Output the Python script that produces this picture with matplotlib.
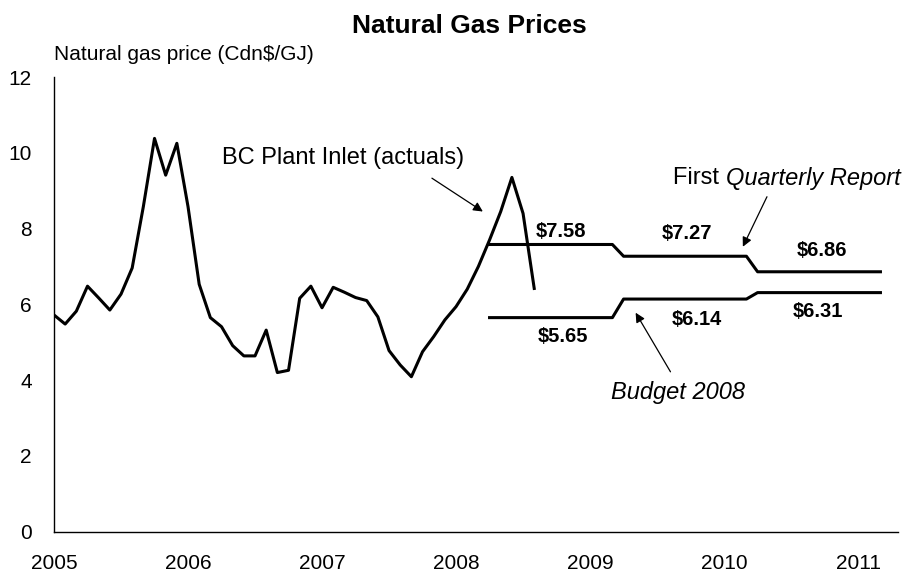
import numpy as np
import matplotlib
matplotlib.use("Agg")
import matplotlib.pyplot as plt

plt.rcParams['font.family'] = ['Liberation Sans', 'DejaVu Sans']

# monthly BC plant inlet price, Jan 2005 - Aug 2008 (Cdn$/GJ)
actual_prices = [
    5.72, 5.48, 5.82, 6.48, 6.17, 5.85, 6.27, 6.96, 8.58, 10.38, 9.41, 10.25,
    8.58, 6.53, 5.65, 5.41, 4.91, 4.64, 4.64, 5.32, 4.20, 4.26, 6.16, 6.48,
    5.91, 6.45, 6.32, 6.18, 6.10, 5.67, 4.78, 4.40, 4.09, 4.75, 5.15, 5.59,
    5.94, 6.40, 7.00, 7.70, 8.45, 9.35, 8.40, 6.42,
]
actual_start = 2005.0

# fiscal year forecasts (Apr - Mar)
fiscal_years = ['2008/09', '2009/10', '2010/11']
fy_start = 2008.25
qr_prices = [7.58, 7.27, 6.86]       # First Quarterly Report
budget_prices = [5.65, 6.14, 6.31]   # Budget 2008

year_ticks = [2005, 2006, 2007, 2008, 2009, 2010, 2011]
y_ticks = [0, 2, 4, 6, 8, 10, 12]

months_actual = actual_start + np.arange(len(actual_prices)) / 12
n_fc = 12 * len(fiscal_years)
months_fc = fy_start + np.arange(n_fc) / 12
qr_monthly = np.repeat(qr_prices, 12)
budget_monthly = np.repeat(budget_prices, 12)

fig = plt.figure(figsize=(9.03, 5.76), dpi=100)
ax = fig.add_axes([0.0598, 0.0769, 0.935, 0.7894])

ax.plot(months_actual, actual_prices, color='black', lw=2.2)
ax.plot(months_fc, qr_monthly, color='black', lw=2.2)
ax.plot(months_fc, budget_monthly, color='black', lw=2.2)

ax.set_xlim(2005, 2011.3)
ax.set_ylim(0, 12)
ax.set_xticks(year_ticks)
ax.set_xticklabels([str(y) for y in year_ticks], fontsize=15)
ax.set_yticks(y_ticks)
ax.set_yticklabels([str(v) for v in y_ticks], fontsize=15)
ax.tick_params(axis='x', length=0, pad=16)
ax.tick_params(axis='y', length=0, pad=16)
for s in ['top', 'right']:
    ax.spines[s].set_visible(False)
for s in ['left', 'bottom']:
    ax.spines[s].set_linewidth(1.0)

# value labels
qr_label_pos = [(2008.78, 7.92), (2009.72, 7.88), (2010.73, 7.43)]
bud_label_pos = [(2008.80, 5.14), (2009.80, 5.59), (2010.70, 5.82)]
for (x, y), v in zip(qr_label_pos, qr_prices):
    ax.text(x, y, f'${v:.2f}', fontsize=14.5, fontweight='bold', ha='center', va='center')
for (x, y), v in zip(bud_label_pos, budget_prices):
    ax.text(x, y, f'${v:.2f}', fontsize=14.5, fontweight='bold', ha='center', va='center')

arrow = dict(arrowstyle='-|>', color='black', lw=0.9, mutation_scale=14, shrinkA=0, shrinkB=0)

ax.text(2006.254, 9.86, 'BC Plant Inlet (actuals)', fontsize=17, ha='left', va='center')
ax.annotate('', xy=(2008.20, 8.45), xytext=(2007.82, 9.33), arrowprops=arrow)

t1 = ax.text(2009.62, 9.33, 'First ', fontsize=17, ha='left', va='center')
ax.annotate('Quarterly Report', xy=(1, 0.5), xycoords=t1, fontsize=17,
            style='italic', ha='left', va='center')
ax.annotate('', xy=(2010.14, 7.52), xytext=(2010.32, 8.84), arrowprops=arrow)

ax.text(2009.655, 3.67, 'Budget 2008', fontsize=17, style='italic', ha='center', va='center')
ax.annotate('', xy=(2009.34, 5.78), xytext=(2009.60, 4.22), arrowprops=arrow)

fig.text(0.52, 0.955, 'Natural Gas Prices', fontsize=19, fontweight='bold',
         ha='center', va='center')
fig.text(54 / 903, 1 - 54 / 576, 'Natural gas price (Cdn$/GJ)', fontsize=15,
         ha='left', va='center')

fig.savefig('out.png', dpi=100)
